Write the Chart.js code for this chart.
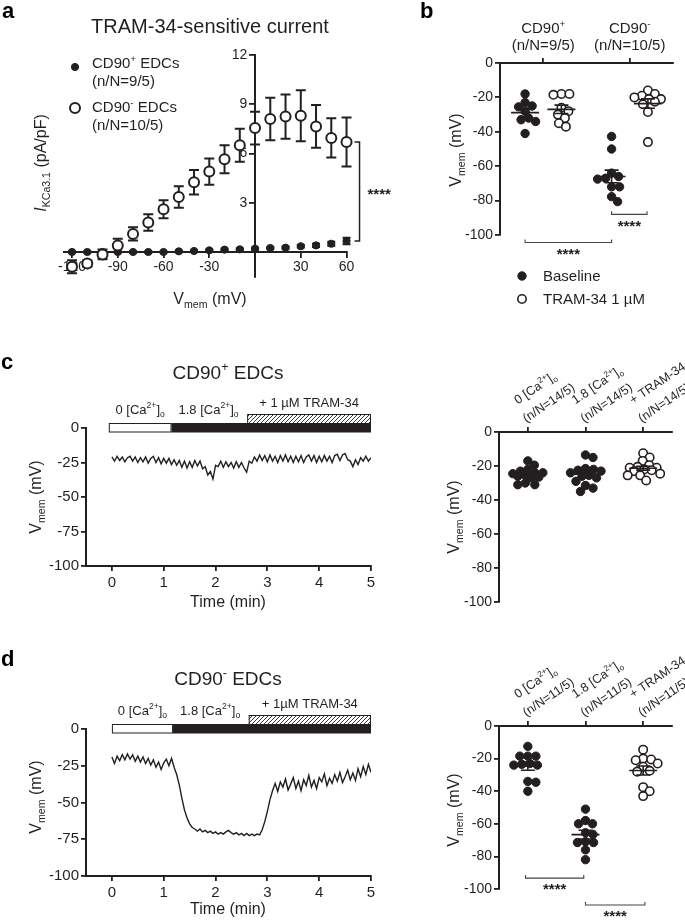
<!DOCTYPE html>
<html><head><meta charset="utf-8">
<script src="https://cdn.jsdelivr.net/npm/chart.js@4.4.1/dist/chart.umd.min.js"></script>
<style>
html,body{margin:0;padding:0;background:#fff;}
#wrap{position:relative;width:685px;height:920px;overflow:hidden;background:#fff;}
#wrap canvas{position:absolute;left:0;top:0;width:685px;height:920px;}
</style></head><body><div id="wrap">
<canvas id="cA" width="685" height="920"></canvas>
<canvas id="cB" width="685" height="920"></canvas>
<canvas id="cCL" width="685" height="920"></canvas>
<canvas id="cCR" width="685" height="920"></canvas>
<canvas id="cDL" width="685" height="920"></canvas>
<canvas id="cDR" width="685" height="920"></canvas>
</div>
<script>
// ---------------- DATA ----------------
// Panel a: TRAM-34-sensitive I/V relation
const ivVoltages = [-120,-110,-100,-90,-80,-70,-60,-50,-40,-30,-20,-10,0,10,20,30,40,50,60];
const ivCD90posMean = [0,0,0,0,0,0,0,0.04,0.06,0.1,0.14,0.16,0.2,0.24,0.26,0.35,0.4,0.5,0.67];
const ivCD90posSEM  = [0.05,0.05,0.05,0.05,0.05,0.05,0.05,0.05,0.05,0.05,0.05,0.05,0.06,0.06,0.07,0.08,0.1,0.12,0.2];
const ivCD90negMean = [-0.9,-0.7,-0.15,0.4,1.1,1.8,2.6,3.35,4.25,4.9,5.65,6.5,7.55,8.1,8.25,8.3,7.65,6.95,6.7];
const ivCD90negSEM  = [0.4,0.2,0.3,0.4,0.4,0.5,0.55,0.65,0.75,0.8,0.85,1.0,1.0,1.3,1.35,1.55,1.3,1.2,1.5];
const ivXTicks = [-120,-90,-60,-30,30,60];
const ivYTicks = [3,6,9,12];
const aLegendLabels = ['CD90^{+} EDCs','CD90^{-} EDCs'];
const aLegendCounts = ['(n/N=9/5)','(n/N=10/5)'];

// Panel b: Vmem baseline vs TRAM-34
const bCategories = ['CD90^{+}','CD90^{-}'];
const bCounts = ['(n/N=9/5)','(n/N=10/5)'];
const bCD90posBaseline = [-18,-23,-25,-25.5,-28,-32,-33,-34,-41];
const bCD90posTram     = [-18,-18,-18.5,-26,-28,-30,-32,-35,-37];
const bCD90negBaseline = [-42.7,-50,-64,-66,-67,-67.5,-72,-72,-77.7,-80.6];
const bCD90negTram     = [-16,-18,-19,-20,-21,-21,-22.5,-24,-28.5,-46];
const bLegendLabels = ['Baseline','TRAM-34 1 µM'];
const vmemTicks = [0,-20,-40,-60,-80,-100];

// Panels c/d: traces (time step 0.05 min)
const traceStep = 0.05;
const traceTicks = [0,1,2,3,4,5];
const traceYTicks = [0,-25,-50,-75,-100];
const traceC = [-21.0,-24.0,-20.5,-23.5,-21.0,-24.5,-21.5,-20.5,-24.0,-21.0,-25.0,-21.5,-24.5,-21.0,-25.5,-22.0,-20.5,-25.0,-21.5,-26.0,
  -22.0,-25.5,-22.0,-26.5,-23.0,-27.0,-23.5,-28.5,-24.0,-29.0,-24.5,-28.5,-23.5,-27.5,-24.0,-29.5,-28.0,-34.0,-31.5,-37.0,
  -27.0,-28.0,-24.0,-28.5,-24.5,-28.0,-25.0,-29.0,-24.5,-28.5,-25.0,-29.0,-32.0,-24.0,-25.5,-21.0,-24.0,-19.5,-23.5,-20.0,
  -24.5,-19.5,-24.0,-20.5,-25.0,-20.0,-24.0,-19.5,-24.5,-20.5,-25.0,-20.5,-24.5,-20.0,-25.0,-21.0,-19.5,-24.0,-20.0,-25.0,
  -20.5,-24.5,-20.0,-24.0,-20.5,-25.0,-20.0,-19.0,-23.5,-19.5,-18.5,-23.0,-24.0,-28.0,-23.0,-26.5,-21.5,-24.0,-20.5,-24.0,-21.5];
const traceD = [-19.0,-23.5,-18.5,-21.5,-17.5,-21.0,-17.0,-20.5,-17.5,-22.0,-18.5,-22.5,-19.0,-23.5,-20.0,-24.5,-21.0,-26.0,-22.5,-27.5,
  -23.0,-20.5,-25.0,-20.0,-26.0,-31.0,-38.0,-47.0,-55.0,-60.5,-64.5,-67.0,-68.0,-69.5,-68.0,-70.0,-69.0,-70.5,-69.5,-71.0,
  -70.0,-71.5,-70.5,-71.5,-70.0,-69.0,-70.5,-71.5,-70.5,-72.0,-71.0,-72.5,-71.0,-72.5,-71.5,-72.5,-71.5,-72.0,-68.5,-63.0,
  -56.0,-48.0,-42.0,-37.0,-42.5,-36.0,-39.5,-34.0,-41.5,-37.5,-33.0,-40.5,-35.5,-42.0,-34.5,-38.5,-31.5,-39.5,-35.0,-40.5,
  -33.0,-36.0,-30.5,-38.5,-33.5,-37.0,-31.0,-35.5,-29.5,-36.5,-32.5,-28.0,-34.5,-30.0,-35.0,-27.0,-32.5,-25.5,-31.0,-24.0,-29.5];
const cZeroCaPeriod = [-0.06,1.15], cCaPeriod = [1.15,5], cTramPeriod = [2.61,5];
const dZeroCaPeriod = [0,1.18],     dCaPeriod = [1.18,5], dTramPeriod = [2.64,5];
const cProtocolLabels = ['0 [Ca^{2+}]_{o}','1.8 [Ca^{2+}]_{o}','+ 1 µM TRAM-34'];
const dProtocolLabels = ['0 [Ca^{2+}]_{o}','1.8 [Ca^{2+}]_{o}','+ 1µM TRAM-34'];

// Panels c/d right: summary dot plots
const dotCategories = ['0 [Ca^{2+}]_{o}','1.8 [Ca^{2+}]_{o}','+ TRAM-34'];
const cDotCounts = ['(n/N=14/5)','(n/N=14/5)','(n/N=14/5)'];
const dDotCounts = ['(n/N=11/5)','(n/N=11/5)','(n/N=11/5)'];
const cDotZeroCa = [-17,-19.5,-22,-23,-24,-24,-24.5,-25.5,-26,-26.5,-27,-30,-31,-31];
const cDotCa     = [-13.5,-15,-21.5,-22,-22.5,-23,-24,-25.5,-26,-27,-29,-31.5,-33,-35];
const cDotTram   = [-12.5,-15,-17,-19.5,-20.5,-21,-21,-22,-22.5,-23,-24.5,-25.5,-25.5,-28.5];
const dDotZeroCa = [-12.5,-18.5,-18.5,-18.5,-23,-23.5,-24,-24,-34,-34.5,-40];
const dDotCa     = [-51,-58,-60,-60,-65.5,-66.5,-71,-71.5,-71.5,-76,-82];
const dDotTram   = [-14.5,-20,-20.5,-21,-23,-25,-27.5,-28,-37.5,-40,-43];

// ---------------- STYLE / HELPERS ----------------
const INK = '#231f20';
const FONT = "'Liberation Sans', Arial, Helvetica, sans-serif";
Chart.defaults.font.family = FONT;
Chart.defaults.color = INK;
Chart.defaults.animation = false;
Chart.defaults.responsive = false;
Chart.defaults.events = [];
Chart.defaults.plugins.legend.display = false;
Chart.defaults.plugins.tooltip.enabled = false;

function drawRich(ctx, str, x, y, size, align, opt) {
  opt = opt || {};
  const parts = str.split(/(\^\{[^}]*\}|_\{[^}]*\}|~\{[^}]*\})/).filter(s => s.length);
  const segs = parts.map(p => {
    let k = 'n', t = p;
    if (p.startsWith('^{')) { k = 'sup'; t = p.slice(2, -1); }
    else if (p.startsWith('_{')) { k = 'sub'; t = p.slice(2, -1); }
    else if (p.startsWith('~{')) { k = 'it'; t = p.slice(2, -1); }
    const s = (k === 'sup' || k === 'sub') ? size * 0.66 : size;
    const font = (k === 'it' ? 'italic ' : '') + (opt.bold ? 'bold ' : '') + s.toFixed(1) + 'px ' + FONT;
    const dy = k === 'sup' ? -size * 0.4 : k === 'sub' ? size * 0.25 : 0;
    return {t, font, dy};
  });
  let w = 0;
  segs.forEach(s => { ctx.font = s.font; s.w = ctx.measureText(s.t).width; w += s.w; });
  let cx = align === 'center' ? x - w / 2 : align === 'right' ? x - w : x;
  const base = y + size * 0.36;
  ctx.save();
  ctx.fillStyle = opt.color || INK; ctx.textAlign = 'left'; ctx.textBaseline = 'alphabetic';
  segs.forEach(s => { ctx.font = s.font; ctx.fillText(s.t, cx, base + s.dy); cx += s.w; });
  ctx.restore();
  return w;
}
function drawRotated(ctx, str, x, y, size, angle, align) {
  ctx.save(); ctx.translate(x, y); ctx.rotate(angle);
  drawRich(ctx, str, 0, 0, size, align || 'center');
  ctx.restore();
}
function marker(ctx, x, y, r, filled, lw) {
  ctx.save(); ctx.beginPath(); ctx.arc(x, y, r, 0, Math.PI * 2);
  ctx.fillStyle = filled ? INK : '#fff'; ctx.fill();
  ctx.lineWidth = lw; ctx.strokeStyle = INK; ctx.stroke(); ctx.restore();
}
function panelLetter(ctx, l, x, y) {
  ctx.save(); ctx.font = 'bold 22px ' + FONT; ctx.fillStyle = '#000';
  ctx.textBaseline = 'middle'; ctx.textAlign = 'left'; ctx.fillText(l, x, y); ctx.restore();
}
function stars(ctx, x, y, align) {
  ctx.save(); ctx.font = 'bold 15px ' + FONT; ctx.fillStyle = INK;
  ctx.textAlign = align || 'center'; ctx.textBaseline = 'middle'; ctx.fillText('****', x, y + 3); ctx.restore();
}
function fixedTicks(vals) { return s => { s.ticks = vals.map(v => ({value: v})); }; }
function axisOpts(o) {
  return {
    type: 'linear', min: o.min, max: o.max, position: o.position,
    afterBuildTicks: fixedTicks(o.ticks),
    afterFit: o.fit,
    grid: {display: true, drawOnChartArea: false, drawTicks: true, tickLength: 5, color: INK, lineWidth: 1.8},
    border: {display: true, color: INK, width: 2},
    ticks: {display: o.labels !== false, color: INK, font: {size: o.size || 14}, padding: o.pad == null ? 3 : o.pad,
            maxRotation: 0, autoSkip: false, callback: o.cb}
  };
}
function hatchPattern(ctx) {
  const c = document.createElement('canvas'); c.width = 4; c.height = 4;
  const g = c.getContext('2d'); g.fillStyle = '#fff'; g.fillRect(0, 0, 4, 4);
  g.strokeStyle = INK; g.lineWidth = 0.9; g.beginPath();
  g.moveTo(0, 4); g.lineTo(4, 0); g.moveTo(-1, 1); g.lineTo(1, -1); g.moveTo(3, 5); g.lineTo(5, 3); g.stroke();
  return ctx.createPattern(c, 'repeat');
}
// beeswarm layout in pixel space, limited half-width
function swarmOffsets(yPix, minDist, maxOff) {
  const order = yPix.map((y, i) => i).sort((a, b) => yPix[a] - yPix[b]);
  const placed = []; const off = new Array(yPix.length).fill(0);
  for (const i of order) {
    const y = yPix[i]; let chosen = null, bestO = 0, bestD = -1;
    for (let k = 0; ; k++) {
      const mag = Math.ceil(k / 2) * 0.5; if (mag > maxOff) break;
      const o = k % 2 === 1 ? mag : -mag;
      const dmin = placed.reduce((m, p) => Math.min(m, Math.hypot(p.x - o, p.y - y)), Infinity);
      if (dmin >= minDist) { chosen = o; break; }
      if (dmin > bestD + 0.01) { bestD = dmin; bestO = o; }
    }
    if (chosen === null) chosen = bestO;
    off[i] = chosen; placed.push({x: chosen, y});
  }
  return off;
}
const mean = a => a.reduce((s, v) => s + v, 0) / a.length;
const sem = a => { const m = mean(a); return Math.sqrt(a.reduce((s, v) => s + (v - m) ** 2, 0) / (a.length - 1)) / Math.sqrt(a.length); };

// ---------------- PANEL A ----------------
(function () {
  const area = {l: 64.4, r: 347.3, t: 55, b: 276.6};
  new Chart(document.getElementById('cA'), {
    type: 'scatter',
    data: {datasets: [
      {data: ivVoltages.map((v, i) => ({x: v, y: ivCD90negMean[i]})), pointRadius: 5, pointBackgroundColor: '#fff',
       pointBorderColor: INK, pointBorderWidth: 2, clip: false},
      {data: ivVoltages.map((v, i) => ({x: v, y: ivCD90posMean[i]})), pointRadius: 3.6, pointBackgroundColor: INK,
       pointBorderColor: INK, pointBorderWidth: 1, clip: false}
    ]},
    options: {
      layout: {padding: {left: area.l, right: 685 - area.r, top: area.t, bottom: 920 - area.b}},
      scales: {
        x: axisOpts({min: -125, max: 60.5, position: {y: 0}, ticks: ivXTicks, size: 14, pad: 2}),
        y: axisOpts({min: -1.5, max: 12, position: {x: 0}, ticks: ivYTicks, size: 14, cb: v => v + '  '})
      }
    },
    plugins: [{
      id: 'pa',
      beforeDatasetsDraw(chart) {
        const ctx = chart.ctx, xs = chart.scales.x, ys = chart.scales.y;
        ctx.save(); ctx.strokeStyle = INK;
        const bars = (m, s, lw, cap) => {
          ctx.lineWidth = lw;
          ivVoltages.forEach((v, i) => {
            const x = xs.getPixelForValue(v), y1 = ys.getPixelForValue(m[i] - s[i]), y2 = ys.getPixelForValue(m[i] + s[i]);
            ctx.beginPath(); ctx.moveTo(x, y1); ctx.lineTo(x, y2);
            ctx.moveTo(x - cap, y1); ctx.lineTo(x + cap, y1); ctx.moveTo(x - cap, y2); ctx.lineTo(x + cap, y2); ctx.stroke();
          });
        };
        bars(ivCD90negMean, ivCD90negSEM, 2, 5);
        bars(ivCD90posMean, ivCD90posSEM, 2, 4);
        ctx.restore();
      },
      afterDraw(chart) {
        const ctx = chart.ctx, xs = chart.scales.x, ys = chart.scales.y;
        panelLetter(ctx, 'a', 2, 12);
        drawRich(ctx, 'TRAM-34-sensitive current', 210, 26, 20, 'center');
        marker(ctx, 75, 67, 3.6, true, 1);
        drawRich(ctx, aLegendLabels[0], 92, 63, 15, 'left');
        drawRich(ctx, aLegendCounts[0], 92, 81, 15, 'left');
        marker(ctx, 75, 108, 5, false, 2);
        drawRich(ctx, aLegendLabels[1], 92, 107, 15, 'left');
        drawRich(ctx, aLegendCounts[1], 92, 125, 15, 'left');
        drawRich(ctx, 'V_{mem} (mV)', 210, 298, 16, 'center');
        drawRotated(ctx, '~{I}_{KCa3.1} (pA/pF)', 40, 163, 16, -Math.PI / 2);
        const last = ivVoltages.length - 1;
        const bx = xs.getPixelForValue(ivVoltages[last]) + 13;
        const y1 = ys.getPixelForValue(ivCD90negMean[last]), y2 = ys.getPixelForValue(ivCD90posMean[last]);
        ctx.save(); ctx.strokeStyle = INK; ctx.lineWidth = 1.5; ctx.beginPath();
        ctx.moveTo(bx - 5, y1); ctx.lineTo(bx, y1); ctx.lineTo(bx, y2); ctx.lineTo(bx - 5, y2); ctx.stroke(); ctx.restore();
        stars(ctx, bx + 8, (y1 + y2) / 2, 'left');
      }
    }]
  });
})();

// ---------------- DOT PLOTS ----------------
function dotChart(id, cfg) {
  const YW = 50, XH = 20, a = cfg.area;
  const datasets = cfg.groups.map(g => ({
    data: g.values.map(v => ({x: g.pos, y: v})), pointRadius: 4.2, pointBackgroundColor: g.filled ? INK : '#fff',
    pointBorderColor: INK, pointBorderWidth: g.filled ? 1 : 1.6, clip: false
  }));
  const chart = new Chart(document.getElementById(id), {
    type: 'scatter',
    data: {datasets},
    options: {
      layout: {padding: {left: a.l - YW, right: 685 - a.r, top: a.t - XH, bottom: 920 - a.b}},
      scales: {
        x: axisOpts({min: cfg.xMin, max: cfg.xMax, position: 'top', ticks: cfg.xTicks, labels: false, fit: s => { s.height = XH; }}),
        y: axisOpts({min: -100, max: 0, position: 'left', ticks: vmemTicks, size: 14, pad: 2, fit: s => { s.width = YW; }})
      }
    },
    plugins: [{
      id: 'dots',
      afterDatasetsDraw(chart) {
        const ctx = chart.ctx, xs = chart.scales.x, ys = chart.scales.y;
        ctx.save(); ctx.strokeStyle = INK; ctx.lineWidth = 1.6;
        cfg.groups.forEach(g => {
          const m = mean(g.values), s = sem(g.values);
          const x = xs.getPixelForValue(g.pos), ym = ys.getPixelForValue(m);
          const ya = ys.getPixelForValue(m - s), yb = ys.getPixelForValue(m + s);
          ctx.beginPath(); ctx.moveTo(x - 14, ym); ctx.lineTo(x + 14, ym);
          ctx.moveTo(x, ya); ctx.lineTo(x, yb);
          ctx.moveTo(x - 7, ya); ctx.lineTo(x + 7, ya); ctx.moveTo(x - 7, yb); ctx.lineTo(x + 7, yb); ctx.stroke();
        });
        ctx.restore();
      },
      afterDraw(chart) {
        const ctx = chart.ctx, xs = chart.scales.x, ys = chart.scales.y;
        (cfg.brackets || []).forEach(b => {
          const x1 = xs.getPixelForValue(b.x1), x2 = xs.getPixelForValue(b.x2), y = ys.getPixelForValue(b.y);
          ctx.save(); ctx.strokeStyle = '#444'; ctx.lineWidth = 1.1; ctx.beginPath();
          ctx.moveTo(x1, y - 3); ctx.lineTo(x1, y); ctx.lineTo(x2, y); ctx.lineTo(x2, y - 3); ctx.stroke(); ctx.restore();
          stars(ctx, (x1 + x2) / 2, y + 9);
        });
        drawRotated(ctx, 'V_{mem} (mV)', cfg.yTitle[0], cfg.yTitle[1], 16, -Math.PI / 2);
        if (cfg.decorate) cfg.decorate(ctx, chart);
      }
    }]
  });
  const xs = chart.scales.x, ys = chart.scales.y;
  const ppu = xs.getPixelForValue(1) - xs.getPixelForValue(0);
  cfg.groups.forEach((g, di) => {
    const off = swarmOffsets(g.values.map(v => ys.getPixelForValue(v)), 7.6, cfg.maxOff || 16);
    chart.data.datasets[di].data = g.values.map((v, i) => ({x: g.pos + off[i] / ppu, y: v}));
  });
  chart.update('none');
  return chart;
}
function rotatedCategoryLabels(ctx, chart, tops, counts) {
  const xs = chart.scales.x, y0 = chart.chartArea.top;
  const ang = -34 * Math.PI / 180;
  tops.forEach((t, i) => {
    const x = xs.getPixelForValue(i + 1);
    ctx.save(); ctx.translate(x - 4, y0 - 13); ctx.rotate(ang);
    drawRich(ctx, counts[i], 0, 0, 12.5, 'left');
    drawRich(ctx, t, 3, -20, 12.5, 'left');
    ctx.restore();
  });
}

// Panel b
dotChart('cB', {
  area: {l: 500, r: 673, t: 63, b: 235}, xMin: 0.5, xMax: 2.5, xTicks: [1, 2], maxOff: 14,
  groups: [
    {values: bCD90posBaseline, pos: 0.79, filled: true},
    {values: bCD90posTram, pos: 1.21, filled: false},
    {values: bCD90negBaseline, pos: 1.79, filled: true},
    {values: bCD90negTram, pos: 2.21, filled: false}
  ],
  brackets: [{x1: 0.79, x2: 1.79, y: -104.4}, {x1: 1.79, x2: 2.2, y: -88}],
  yTitle: [455, 150],
  decorate(ctx, chart) {
    const xs = chart.scales.x;
    panelLetter(ctx, 'b', 420, 12);
    bCategories.forEach((c, i) => {
      const x = xs.getPixelForValue(i + 1);
      drawRich(ctx, c, x, 28, 15, 'center');
      drawRich(ctx, bCounts[i], x, 45, 15, 'center');
    });
    marker(ctx, 522, 276, 4.2, true, 1);
    drawRich(ctx, bLegendLabels[0], 543, 276, 15, 'left');
    marker(ctx, 522, 299, 4.2, false, 1.6);
    drawRich(ctx, bLegendLabels[1], 543, 299, 15, 'left');
  }
});

// Panel c right
dotChart('cCR', {
  area: {l: 499, r: 672, t: 432, b: 602}, xMin: 0.5, xMax: 3.5, xTicks: [1, 2, 3], maxOff: 17,
  groups: [
    {values: cDotZeroCa, pos: 1, filled: true},
    {values: cDotCa, pos: 2, filled: true},
    {values: cDotTram, pos: 3, filled: false}
  ],
  yTitle: [453, 517],
  decorate(ctx, chart) { rotatedCategoryLabels(ctx, chart, dotCategories, cDotCounts); }
});

// Panel d right
dotChart('cDR', {
  area: {l: 499, r: 672, t: 726, b: 889}, xMin: 0.5, xMax: 3.5, xTicks: [1, 2, 3], maxOff: 17,
  groups: [
    {values: dDotZeroCa, pos: 1, filled: true},
    {values: dDotCa, pos: 2, filled: true},
    {values: dDotTram, pos: 3, filled: false}
  ],
  brackets: [{x1: 0.96, x2: 1.97, y: -93.3}, {x1: 2.0, x2: 3.03, y: -109.8}],
  yTitle: [453, 810],
  decorate(ctx, chart) { rotatedCategoryLabels(ctx, chart, dotCategories, dDotCounts); }
});

// ---------------- TRACES ----------------
function traceChart(id, cfg) {
  const YW = 50, XH = 30, a = cfg.area;
  return new Chart(document.getElementById(id), {
    type: 'line',
    data: {datasets: [{data: cfg.values.map((v, i) => ({x: i * traceStep, y: v})), borderColor: INK,
      borderWidth: 1.4, pointRadius: 0, tension: 0, fill: false}]},
    options: {
      layout: {padding: {left: a.l - YW, right: 685 - a.r, top: a.t, bottom: 920 - a.b - XH}},
      scales: {
        x: axisOpts({min: -0.5, max: 5, position: 'bottom', ticks: traceTicks, size: 15, pad: 3, fit: s => { s.height = XH; }}),
        y: axisOpts({min: -100, max: 0, position: 'left', ticks: traceYTicks, size: 15, pad: 2, fit: s => { s.width = YW; }})
      }
    },
    plugins: [{
      id: 'trace',
      afterDraw(chart) {
        const ctx = chart.ctx, xs = chart.scales.x, ys = chart.scales.y;
        const y0 = ys.getPixelForValue(0), top = y0 - 5, h = 9.5, hh = 9;
        const xa = xs.getPixelForValue(cfg.zero[0]), xb = xs.getPixelForValue(cfg.zero[1]);
        const xc = xs.getPixelForValue(cfg.ca[1]);
        const xt = xs.getPixelForValue(cfg.tram[0]), xte = xs.getPixelForValue(cfg.tram[1]);
        ctx.save(); ctx.strokeStyle = INK; ctx.lineWidth = 1;
        ctx.fillStyle = '#fff'; ctx.fillRect(xa, top, xb - xa, h); ctx.strokeRect(xa + 0.5, top + 0.5, xb - xa - 1, h - 1);
        ctx.fillStyle = INK; ctx.fillRect(xb, top, xc - xb, h);
        ctx.fillStyle = hatchPattern(ctx); ctx.fillRect(xt, top - hh, xte - xt, hh);
        ctx.strokeRect(xt + 0.5, top - hh + 0.5, xte - xt - 1, hh);
        ctx.restore();
        drawRich(ctx, cfg.labels[0], (xa + xb) / 2, top - 14, 13, 'center');
        drawRich(ctx, cfg.labels[1], xb + 7, top - 14, 13, 'left');
        drawRich(ctx, cfg.labels[2], (xt + xte) / 2, top - hh - 12, 13, 'center');
        panelLetter(ctx, cfg.letter, 1, cfg.letterY);
        drawRich(ctx, cfg.title, 228, cfg.titleY, 19, 'center');
        drawRotated(ctx, 'V_{mem} (mV)', 35, cfg.yTitleY, 16, -Math.PI / 2);
        drawRich(ctx, 'Time (min)', 228, cfg.xTitleY, 16, 'center');
      }
    }]
  });
}
traceChart('cCL', {
  area: {l: 86, r: 371, t: 428, b: 566}, values: traceC,
  zero: cZeroCaPeriod, ca: cCaPeriod, tram: cTramPeriod, labels: cProtocolLabels,
  letter: 'c', letterY: 363, title: 'CD90^{+} EDCs', titleY: 372, yTitleY: 497, xTitleY: 601
});
traceChart('cDL', {
  area: {l: 86, r: 371, t: 729, b: 876}, values: traceD,
  zero: dZeroCaPeriod, ca: dCaPeriod, tram: dTramPeriod, labels: dProtocolLabels,
  letter: 'd', letterY: 660, title: 'CD90^{-} EDCs', titleY: 678, yTitleY: 797, xTitleY: 908
});
</script></body></html>
